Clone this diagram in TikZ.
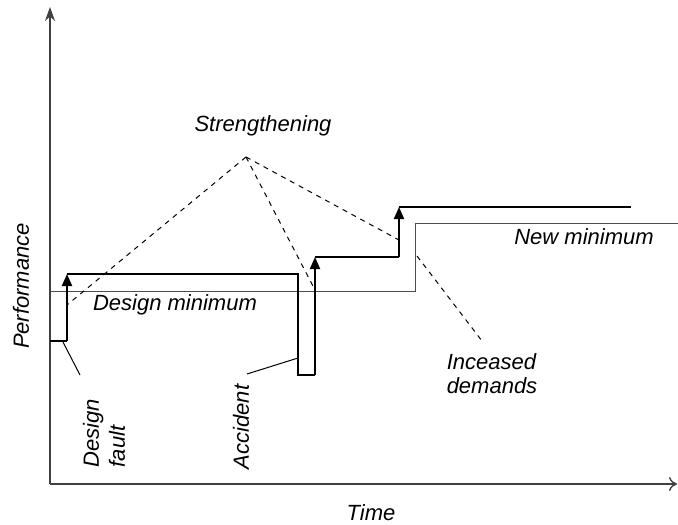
\documentclass[tikz,border=0pt]{standalone}
\usepackage{fontspec}
\setmainfont{Liberation Sans}
\usetikzlibrary{arrows.meta}
\tikzset{
  lbl/.style={font=\fontsize{11}{12}\selectfont\itshape, inner sep=0pt, align=left},
  axis/.style={line width=0.7pt, draw=black!75},
  perf/.style={line width=1pt},
  rise/.style={perf, -{Triangle[width=5pt,length=6pt]}},
  minline/.style={line width=0.5pt, draw=black!70},
  guide/.style={line width=0.5pt, dash pattern=on 2.5pt off 2.5pt},
  leader/.style={line width=0.5pt}
}
\begin{document}
\begin{tikzpicture}[x=0.5pt,y=-0.5pt]
  \useasboundingbox (0,0) rectangle (678,524);
  \draw
    (50,484) coordinate (o)
    (50,7) coordinate (ytop)
    (677,484) coordinate (xend)
    (50,291) coordinate (m0)
    (415,291) coordinate (m1)
    (415,223) coordinate (m2)
    (678,223) coordinate (m3)
    (50,341) coordinate (p0)
    (67,341) coordinate (p1)
    (67,274) coordinate (p2)
    (298,274) coordinate (p3)
    (298,375) coordinate (p4)
    (315,375) coordinate (p5)
    (315,257) coordinate (p6)
    (399,257) coordinate (p7)
    (399,207) coordinate (p8)
    (631,207) coordinate (p9)
    (246,157) coordinate (apex)
    (67,305) coordinate (s1)
    (315,290) coordinate (s2)
    (399,240) coordinate (s3)
    (63,342) coordinate (f0)
    (80,375) coordinate (f1)
    (298,358) coordinate (a0)
    (247,374) coordinate (a1)
    (417,256) coordinate (d0)
    (482,341) coordinate (d1);
  \draw
    (263,126) node[lbl] (strength){Strengthening}
    (584,237) node[lbl] (newmin){New minimum}
    (175,305) node[lbl] (designmin){Design minimum}
    (21,286) node[lbl,rotate=90] (perfax){Performance}
    (371,513) node[lbl] (timeax){Time}
    (104,433) node[lbl,rotate=90] (fault){Design\\[1pt]fault}
    (241,427) node[lbl,rotate=90] (accident){Accident}
    (492,374) node[lbl] (demands){Inceased\\demands};
  \begin{scope}[minline]
    \draw (m0) -- (m1) -- (m2) -- (m3);
  \end{scope}
  \draw[axis,-{Stealth[length=7pt,width=5pt]}] (o) -- (ytop);
  \draw[axis,-{To[length=4pt,width=7pt]}] (o) -- (xend);
  \begin{scope}[guide]
    \draw (apex) -- (s1);
    \draw (apex) -- (s2);
    \draw (apex) -- (s3);
    \draw (d0) -- (d1);
  \end{scope}
  \draw[perf] (p0) -- (p1);
  \draw[rise] (p1) -- (p2);
  \draw[perf] (p2) -- (p3) -- (p4) -- (p5);
  \draw[rise] (p5) -- (p6);
  \draw[perf] (p6) -- (p7);
  \draw[rise] (p7) -- (p8);
  \draw[perf] (p8) -- (p9);
  \draw[leader] (f0) -- (f1);
  \draw[leader] (a0) -- (a1);
\end{tikzpicture}
\end{document}
